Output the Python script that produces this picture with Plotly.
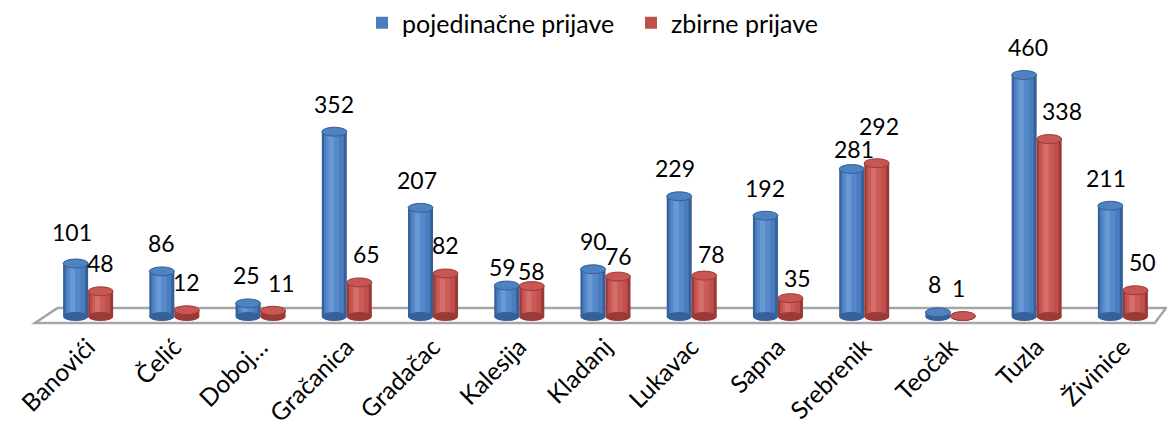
import plotly.graph_objects as go

# Municipalities and number of applications per type
categories = ["Banovići", "Čelić", "Doboj…", "Gračanica", "Gradačac", "Kalesija",
              "Kladanj", "Lukavac", "Sapna", "Srebrenik", "Teočak", "Tuzla", "Živinice"]
pojedinacne = [101, 86, 25, 352, 207, 59, 90, 229, 192, 281, 8, 460, 211]
zbirne = [48, 12, 11, 65, 82, 58, 76, 78, 35, 292, 1, 338, 50]

W = 0.29           # width of one cylinder in category units
CAP = 8.5          # half-height of the elliptical caps, in value units
FONT = "Lato, 'Open Sans', sans-serif"

series = [
    # name, values, offset, (dark, base, mid, light, cap)
    ("pojedinačne prijave", pojedinacne, -W,
     ("#36609A", "#4A7DBD", "#5689C9", "#77A3DA", "#4F82C0")),
    ("zbirne prijave", zbirne, 0.0,
     ("#9A3A37", "#C14F4B", "#CB5B57", "#DA7C78", "#C85753")),
]

# label nudges in pixels (dx, dy) where neighbouring labels would collide
nudges = {
    (0, "Banovići"): (-4, -3), (0, "Doboj…"): (-2, 0), (1, "Doboj…"): (8, 0),
    (1, "Gračanica"): (7, 0), (0, "Gradačac"): (-4, 0),
    (0, "Kalesija"): (-4, 9), (1, "Kalesija"): (0, 13),
    (1, "Kladanj"): (0, 7), (1, "Lukavac"): (7, 6), (0, "Lukavac"): (-4, 0),
    (1, "Sapna"): (7, 8), (0, "Srebrenik"): (2, 8), (1, "Srebrenik"): (2, -9),
    (0, "Teočak"): (-3, 0), (1, "Teočak"): (-4, 0), (0, "Tuzla"): (4, 0),
    (1, "Tuzla"): (13, 0), (0, "Živinice"): (-4, 0), (1, "Živinice"): (7, 0),
}

x = list(range(len(categories)))
fig = go.Figure()
shapes = []
annotations = []

for k, (name, vals, off, (dark, base, mid, light, cap)) in enumerate(series):
    # body of the cylinder: dark rim, body tone, soft centre band and highlight
    fig.add_bar(x=x, y=vals, offset=off, width=W, marker=dict(color=dark, line_width=0),
                showlegend=False, hoverinfo="skip")
    fig.add_bar(x=x, y=vals, offset=off + 0.025, width=W - 0.06, name=name,
                marker=dict(color=base, line_width=0), hoverinfo="x+y",
                legend="legend" if k == 0 else "legend2")
    fig.add_bar(x=x, y=vals, offset=off + 0.05, width=0.15,
                marker=dict(color=mid, line_width=0),
                showlegend=False, hoverinfo="skip")
    fig.add_bar(x=x, y=vals, offset=off + 0.08, width=0.06,
                marker=dict(color=light, line_width=0, opacity=0.6),
                showlegend=False, hoverinfo="skip")
    for i, v in zip(x, vals):
        # rounded bottom and top of each cylinder
        shapes.append(dict(type="circle", xref="x", yref="y", layer="above",
                           x0=i + off, x1=i + off + W, y0=-CAP, y1=CAP,
                           fillcolor=dark, line=dict(width=0)))
        shapes.append(dict(type="circle", xref="x", yref="y", layer="above",
                           x0=i + off, x1=i + off + W, y0=v - CAP, y1=v + CAP,
                           fillcolor=cap, line=dict(color=dark, width=1)))
        dx, dy = nudges.get((k, categories[i]), (0, 0))
        annotations.append(dict(x=i + off + W / 2, y=v, xref="x", yref="y",
                                text=str(v), showarrow=False, yanchor="bottom",
                                xshift=dx, yshift=12 - dy,
                                font=dict(size=23, color="#000000", family=FONT)))

# floor of the 3D plot area, drawn beneath the bars
floor = dict(type="path", xref="paper", yref="y", layer="below",
             path="M -0.009,-12.5 L 0.011,16 L 1.0,16 L 0.990,-12.5 Z",
             fillcolor="#FFFFFF", line=dict(color="#A6A6A6", width=2.5))

legend_style = dict(orientation="h", y=1.0, yanchor="top", xanchor="left",
                    font=dict(size=25), bgcolor="rgba(0,0,0,0)", itemwidth=30)

fig.update_layout(
    width=1167, height=432,
    margin=dict(l=45, r=1, t=0, b=102),
    barmode="overlay",
    paper_bgcolor="white", plot_bgcolor="white",
    font=dict(family=FONT, size=23, color="#000000"),
    shapes=[floor] + shapes,
    annotations=annotations,
    legend=dict(legend_style, x=(362 - 45) / 1121),
    legend2=dict(legend_style, x=(631 - 45) / 1121),
    xaxis=dict(range=[-0.5, 12.5], tickmode="array", tickvals=x, ticktext=categories,
               tickangle=-45, showgrid=False, zeroline=False, showline=False,
               ticks="", tickfont=dict(size=24.5), ticklabelstandoff=-3,
               automargin=False),
    yaxis=dict(range=[-25.7, 507.6], domain=[0, 280 / 330], visible=False,
               showgrid=False, zeroline=False, automargin=False),
)

fig.write_html("out.html")
